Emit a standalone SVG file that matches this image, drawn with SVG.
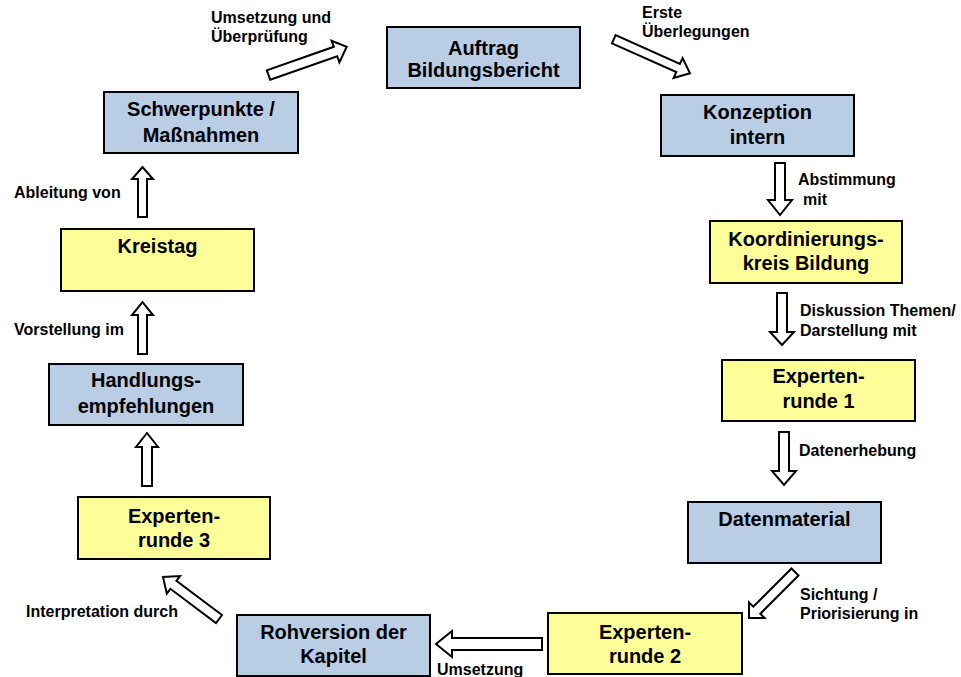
<svg xmlns="http://www.w3.org/2000/svg" width="961" height="677" viewBox="0 0 961 677">
<style>
.box{stroke:#000;stroke-width:2}
.blue{fill:#B9CDE5}
.yellow{fill:#FFFF99}
.nt{font-family:"Liberation Sans",Arial,sans-serif;font-weight:bold;font-size:20px;fill:#000;text-anchor:middle}
.lt{font-family:"Liberation Sans",Arial,sans-serif;font-weight:bold;font-size:16px;fill:#000}
.arr{fill:#fff;stroke:#000;stroke-width:2;stroke-linejoin:miter}
</style>
<rect width="961" height="677" fill="#fff"/>
<g id="connectors">
<polygon class="arr" points="270.2,79.7 337.2,56.2 339.4,62.3 346.7,46.7 331.6,40.7 333.8,46.8 266.8,70.3"/>
<polygon class="arr" points="612,43.3 676.3,72.1 673.6,78 690,73.3 682.6,58 679.9,63.9 615.6,35.1"/>
<polygon class="arr" points="775,163 785,163 785,200 792,200 780,215 768,200 775,200"/>
<polygon class="arr" points="777,293 787,293 787,332 794,332 782,345 770,332 777,332"/>
<polygon class="arr" points="779,432 789,432 789,471 796,471 784,485 772,471 779,471"/>
<polygon class="arr" points="798.5,575.5 760.3,613.7 764.6,618 749,618 749,602.4 753.3,606.7 791.5,568.5"/>
<polygon class="arr" points="542,638 452,638 452,631 436,644 452,657 452,650 542,650"/>
<polygon class="arr" points="222,615 176.4,580.8 180,576 163,577 166.8,593.6 170.4,588.8 216,623"/>
<polygon class="arr" points="142,486 152,486 152,447 158,447 147,433 136,447 142,447"/>
<polygon class="arr" points="138,354 147,354 147,315 153,315 142.5,302 132,315 138,315"/>
<polygon class="arr" points="138,217 147,217 147,179 153,179 142.5,167 132,179 138,179"/>
<text class="lt" x="211" y="23">Umsetzung und</text>
<text class="lt" x="211" y="42">Überprüfung</text>
<text class="lt" x="642" y="18">Erste</text>
<text class="lt" x="642" y="37">Überlegungen</text>
<text class="lt" x="798" y="185">Abstimmung</text>
<text class="lt" x="803" y="205">mit</text>
<text class="lt" x="800" y="316">Diskussion Themen/</text>
<text class="lt" x="800" y="336">Darstellung mit</text>
<text class="lt" x="799" y="456">Datenerhebung</text>
<text class="lt" x="800" y="600">Sichtung /</text>
<text class="lt" x="800" y="619">Priorisierung in</text>
<text class="lt" x="437" y="675">Umsetzung</text>
<text class="lt" x="26" y="617">Interpretation durch</text>
<text class="lt" x="14" y="335">Vorstellung im</text>
<text class="lt" x="14" y="198">Ableitung von</text>
</g>
<g id="auftrag"><rect class="box blue" x="387" y="27" width="193" height="61"/><text class="nt" x="483.5" y="55">Auftrag</text><text class="nt" x="483.5" y="77">Bildungsbericht</text></g>
<g id="konzeption"><rect class="box blue" x="661" y="95" width="193" height="61"/><text class="nt" x="757.5" y="119">Konzeption</text><text class="nt" x="757.5" y="144">intern</text></g>
<g id="koordinierungskreis"><rect class="box yellow" x="710" y="221" width="192" height="62"/><text class="nt" x="806" y="246">Koordinierungs-</text><text class="nt" x="806" y="270">kreis Bildung</text></g>
<g id="expertenrunde1"><rect class="box yellow" x="722" y="360" width="193" height="61"/><text class="nt" x="818.5" y="383">Experten-</text><text class="nt" x="818.5" y="408">runde 1</text></g>
<g id="datenmaterial"><rect class="box blue" x="688" y="502" width="193" height="61"/><text class="nt" x="784.5" y="526">Datenmaterial</text></g>
<g id="expertenrunde2"><rect class="box yellow" x="548" y="613" width="194" height="61"/><text class="nt" x="645" y="639">Experten-</text><text class="nt" x="645" y="663">runde 2</text></g>
<g id="rohversion"><rect class="box blue" x="237" y="615" width="193" height="61"/><text class="nt" x="333.5" y="639">Rohversion der</text><text class="nt" x="333.5" y="663">Kapitel</text></g>
<g id="expertenrunde3"><rect class="box yellow" x="78" y="497" width="192" height="62"/><text class="nt" x="174" y="523">Experten-</text><text class="nt" x="174" y="547">runde 3</text></g>
<g id="handlungsempfehlungen"><rect class="box blue" x="49" y="364" width="194" height="61"/><text class="nt" x="146" y="387">Handlungs-</text><text class="nt" x="146" y="413">empfehlungen</text></g>
<g id="kreistag"><rect class="box yellow" x="61" y="229" width="193" height="62"/><text class="nt" x="157.5" y="253">Kreistag</text></g>
<g id="schwerpunkte"><rect class="box blue" x="104" y="92" width="194" height="61"/><text class="nt" x="201" y="116">Schwerpunkte /</text><text class="nt" x="201" y="142">Maßnahmen</text></g>
</svg>
